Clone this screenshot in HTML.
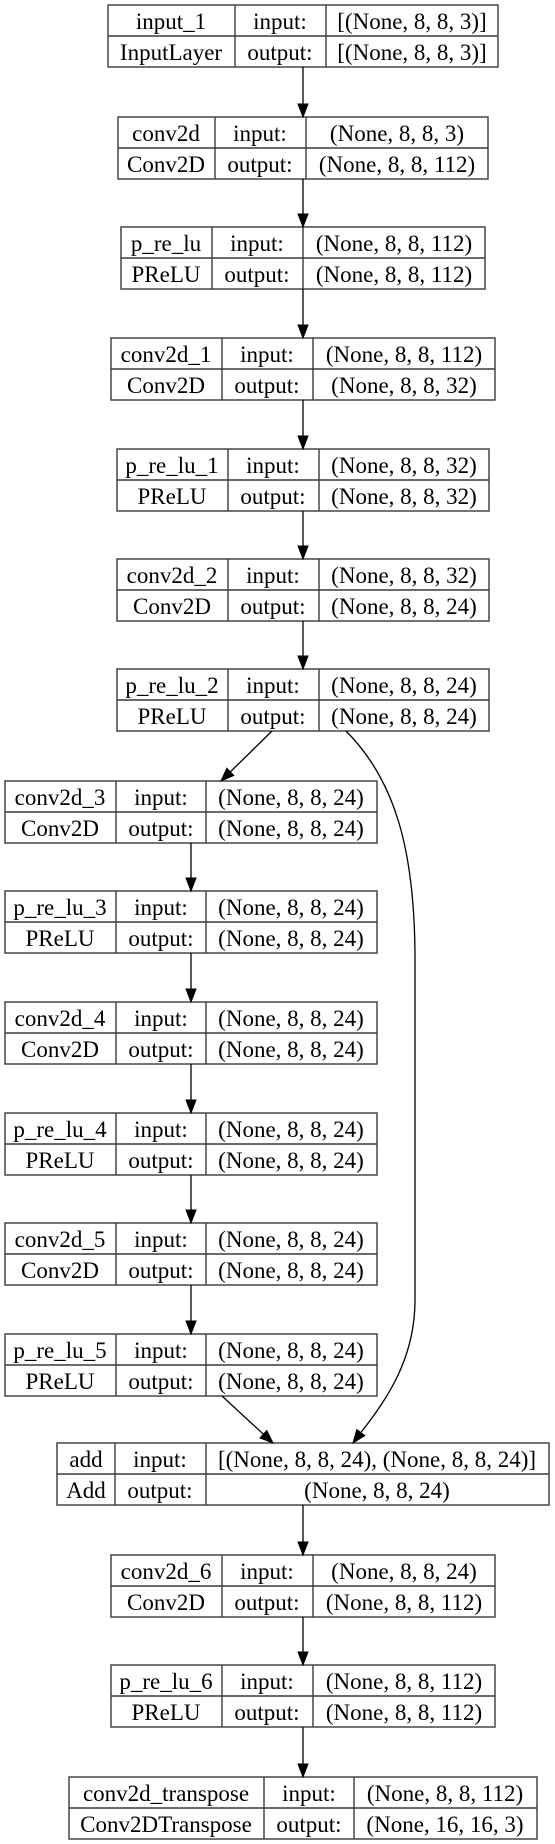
<!DOCTYPE html>
<html><head><meta charset="utf-8"><style>
html,body{margin:0;padding:0;background:#fff;}
svg{display:block;}
text{font-family:"Liberation Serif",serif;font-size:23px;fill:#000;text-anchor:middle;}
.b rect,.b line{stroke:#3a3a3a;stroke-width:1.4;fill:none;}
.e{stroke:#000;stroke-width:1.3;fill:none;}
.h{fill:#000;stroke:#000;stroke-width:1;}
</style></head><body>
<svg width="555" height="1844" viewBox="0 0 555 1844" xmlns="http://www.w3.org/2000/svg">
<g class="b">
<rect x="108" y="5" width="390" height="62"/><line x1="235" y1="5" x2="235" y2="67"/><line x1="326" y1="5" x2="326" y2="67"/><line x1="108" y1="36" x2="498" y2="36"/>
<rect x="118" y="117" width="370" height="62"/><line x1="215" y1="117" x2="215" y2="179"/><line x1="306" y1="117" x2="306" y2="179"/><line x1="118" y1="148" x2="488" y2="148"/>
<rect x="121" y="227" width="364" height="62"/><line x1="212" y1="227" x2="212" y2="289"/><line x1="303" y1="227" x2="303" y2="289"/><line x1="121" y1="258" x2="485" y2="258"/>
<rect x="111" y="338" width="384" height="62"/><line x1="222" y1="338" x2="222" y2="400"/><line x1="313" y1="338" x2="313" y2="400"/><line x1="111" y1="369" x2="495" y2="369"/>
<rect x="117" y="449" width="372" height="62"/><line x1="228" y1="449" x2="228" y2="511"/><line x1="319" y1="449" x2="319" y2="511"/><line x1="117" y1="480" x2="489" y2="480"/>
<rect x="117" y="559" width="372" height="62"/><line x1="228" y1="559" x2="228" y2="621"/><line x1="319" y1="559" x2="319" y2="621"/><line x1="117" y1="590" x2="489" y2="590"/>
<rect x="117" y="669" width="372" height="62"/><line x1="228" y1="669" x2="228" y2="731"/><line x1="319" y1="669" x2="319" y2="731"/><line x1="117" y1="700" x2="489" y2="700"/>
<rect x="5" y="781" width="372" height="62"/><line x1="116" y1="781" x2="116" y2="843"/><line x1="206" y1="781" x2="206" y2="843"/><line x1="5" y1="812" x2="377" y2="812"/>
<rect x="5" y="891" width="372" height="62"/><line x1="116" y1="891" x2="116" y2="953"/><line x1="206" y1="891" x2="206" y2="953"/><line x1="5" y1="922" x2="377" y2="922"/>
<rect x="5" y="1002" width="372" height="62"/><line x1="116" y1="1002" x2="116" y2="1064"/><line x1="206" y1="1002" x2="206" y2="1064"/><line x1="5" y1="1033" x2="377" y2="1033"/>
<rect x="5" y="1113" width="372" height="62"/><line x1="116" y1="1113" x2="116" y2="1175"/><line x1="206" y1="1113" x2="206" y2="1175"/><line x1="5" y1="1144" x2="377" y2="1144"/>
<rect x="5" y="1223" width="372" height="62"/><line x1="116" y1="1223" x2="116" y2="1285"/><line x1="206" y1="1223" x2="206" y2="1285"/><line x1="5" y1="1254" x2="377" y2="1254"/>
<rect x="5" y="1334" width="372" height="62"/><line x1="116" y1="1334" x2="116" y2="1396"/><line x1="206" y1="1334" x2="206" y2="1396"/><line x1="5" y1="1365" x2="377" y2="1365"/>
<rect x="57" y="1443" width="492" height="62"/><line x1="115" y1="1443" x2="115" y2="1505"/><line x1="206" y1="1443" x2="206" y2="1505"/><line x1="57" y1="1474" x2="549" y2="1474"/>
<rect x="111" y="1555" width="384" height="62"/><line x1="222" y1="1555" x2="222" y2="1617"/><line x1="313" y1="1555" x2="313" y2="1617"/><line x1="111" y1="1586" x2="495" y2="1586"/>
<rect x="111" y="1665" width="384" height="62"/><line x1="222" y1="1665" x2="222" y2="1727"/><line x1="313" y1="1665" x2="313" y2="1727"/><line x1="111" y1="1696" x2="495" y2="1696"/>
<rect x="69" y="1777" width="468" height="62"/><line x1="264" y1="1777" x2="264" y2="1839"/><line x1="354" y1="1777" x2="354" y2="1839"/><line x1="69" y1="1808" x2="537" y2="1808"/>
</g>
<text x="171" y="29">input_1</text><text x="280" y="29">input:</text><text x="412" y="29">[(None, 8, 8, 3)]</text>
<text x="171" y="60">InputLayer</text><text x="280" y="60">output:</text><text x="412" y="60">[(None, 8, 8, 3)]</text>

<text x="166" y="141">conv2d</text><text x="260" y="141">input:</text><text x="397" y="141">(None, 8, 8, 3)</text>
<text x="166" y="172">Conv2D</text><text x="260" y="172">output:</text><text x="397" y="172">(None, 8, 8, 112)</text>

<text x="166" y="251">p_re_lu</text><text x="257" y="251">input:</text><text x="394" y="251">(None, 8, 8, 112)</text>
<text x="166" y="282">PReLU</text><text x="257" y="282">output:</text><text x="394" y="282">(None, 8, 8, 112)</text>

<text x="166" y="362">conv2d_1</text><text x="267" y="362">input:</text><text x="404" y="362">(None, 8, 8, 112)</text>
<text x="166" y="393">Conv2D</text><text x="267" y="393">output:</text><text x="404" y="393">(None, 8, 8, 32)</text>

<text x="172" y="473">p_re_lu_1</text><text x="273" y="473">input:</text><text x="404" y="473">(None, 8, 8, 32)</text>
<text x="172" y="504">PReLU</text><text x="273" y="504">output:</text><text x="404" y="504">(None, 8, 8, 32)</text>

<text x="172" y="583">conv2d_2</text><text x="273" y="583">input:</text><text x="404" y="583">(None, 8, 8, 32)</text>
<text x="172" y="614">Conv2D</text><text x="273" y="614">output:</text><text x="404" y="614">(None, 8, 8, 24)</text>

<text x="172" y="693">p_re_lu_2</text><text x="273" y="693">input:</text><text x="404" y="693">(None, 8, 8, 24)</text>
<text x="172" y="724">PReLU</text><text x="273" y="724">output:</text><text x="404" y="724">(None, 8, 8, 24)</text>

<text x="60" y="805">conv2d_3</text><text x="161" y="805">input:</text><text x="291" y="805">(None, 8, 8, 24)</text>
<text x="60" y="836">Conv2D</text><text x="161" y="836">output:</text><text x="291" y="836">(None, 8, 8, 24)</text>

<text x="60" y="915">p_re_lu_3</text><text x="161" y="915">input:</text><text x="291" y="915">(None, 8, 8, 24)</text>
<text x="60" y="946">PReLU</text><text x="161" y="946">output:</text><text x="291" y="946">(None, 8, 8, 24)</text>

<text x="60" y="1026">conv2d_4</text><text x="161" y="1026">input:</text><text x="291" y="1026">(None, 8, 8, 24)</text>
<text x="60" y="1057">Conv2D</text><text x="161" y="1057">output:</text><text x="291" y="1057">(None, 8, 8, 24)</text>

<text x="60" y="1137">p_re_lu_4</text><text x="161" y="1137">input:</text><text x="291" y="1137">(None, 8, 8, 24)</text>
<text x="60" y="1168">PReLU</text><text x="161" y="1168">output:</text><text x="291" y="1168">(None, 8, 8, 24)</text>

<text x="60" y="1247">conv2d_5</text><text x="161" y="1247">input:</text><text x="291" y="1247">(None, 8, 8, 24)</text>
<text x="60" y="1278">Conv2D</text><text x="161" y="1278">output:</text><text x="291" y="1278">(None, 8, 8, 24)</text>

<text x="60" y="1358">p_re_lu_5</text><text x="161" y="1358">input:</text><text x="291" y="1358">(None, 8, 8, 24)</text>
<text x="60" y="1389">PReLU</text><text x="161" y="1389">output:</text><text x="291" y="1389">(None, 8, 8, 24)</text>

<text x="86" y="1467">add</text><text x="160" y="1467">input:</text><text x="377" y="1467">[(None, 8, 8, 24), (None, 8, 8, 24)]</text>
<text x="86" y="1498">Add</text><text x="160" y="1498">output:</text><text x="377" y="1498">(None, 8, 8, 24)</text>

<text x="166" y="1579">conv2d_6</text><text x="267" y="1579">input:</text><text x="404" y="1579">(None, 8, 8, 24)</text>
<text x="166" y="1610">Conv2D</text><text x="267" y="1610">output:</text><text x="404" y="1610">(None, 8, 8, 112)</text>

<text x="166" y="1689">p_re_lu_6</text><text x="267" y="1689">input:</text><text x="404" y="1689">(None, 8, 8, 112)</text>
<text x="166" y="1720">PReLU</text><text x="267" y="1720">output:</text><text x="404" y="1720">(None, 8, 8, 112)</text>

<text x="166" y="1801">conv2d_transpose</text><text x="309" y="1801">input:</text><text x="445" y="1801">(None, 8, 8, 112)</text>
<text x="166" y="1832">Conv2DTranspose</text><text x="309" y="1832">output:</text><text x="445" y="1832">(None, 16, 16, 3)</text>

<g class="e">
<line x1="303" y1="67" x2="303" y2="104"/>
<line x1="303" y1="179" x2="303" y2="214"/>
<line x1="303" y1="289" x2="303" y2="325"/>
<line x1="303" y1="400" x2="303" y2="436"/>
<line x1="303" y1="511" x2="303" y2="546"/>
<line x1="303" y1="621" x2="303" y2="656"/>
<line x1="191" y1="843" x2="191" y2="878"/>
<line x1="191" y1="953" x2="191" y2="989"/>
<line x1="191" y1="1064" x2="191" y2="1100"/>
<line x1="191" y1="1175" x2="191" y2="1210"/>
<line x1="191" y1="1285" x2="191" y2="1321"/>
<line x1="303" y1="1505" x2="303" y2="1542"/>
<line x1="303" y1="1617" x2="303" y2="1652"/>
<line x1="303" y1="1727" x2="303" y2="1764"/>
<line x1="272" y1="731" x2="230.3" y2="771.9"/>
<line x1="222" y1="1396" x2="263.4" y2="1434.2"/>
<path d="M346,731 C395,780 415,850 415,960 L415,1300 C415,1350 395,1390 360.8,1432.6"/>
</g>
<g class="h">
<polygon points="303,117 298,104 308,104"/>
<polygon points="303,227 298,214 308,214"/>
<polygon points="303,338 298,325 308,325"/>
<polygon points="303,449 298,436 308,436"/>
<polygon points="303,559 298,546 308,546"/>
<polygon points="303,669 298,656 308,656"/>
<polygon points="191,891 186,878 196,878"/>
<polygon points="191,1002 186,989 196,989"/>
<polygon points="191,1113 186,1100 196,1100"/>
<polygon points="191,1223 186,1210 196,1210"/>
<polygon points="191,1334 186,1321 196,1321"/>
<polygon points="303,1555 298,1542 308,1542"/>
<polygon points="303,1665 298,1652 308,1652"/>
<polygon points="303,1777 298,1764 308,1764"/>
<polygon points="221,781 233.8,775.5 226.8,768.3"/>
<polygon points="273,1443 260,1437.9 266.8,1430.5"/>
<polygon points="353,1443 364.8,1435.6 356.8,1429.6"/>
</g>
</svg>
</body></html>
